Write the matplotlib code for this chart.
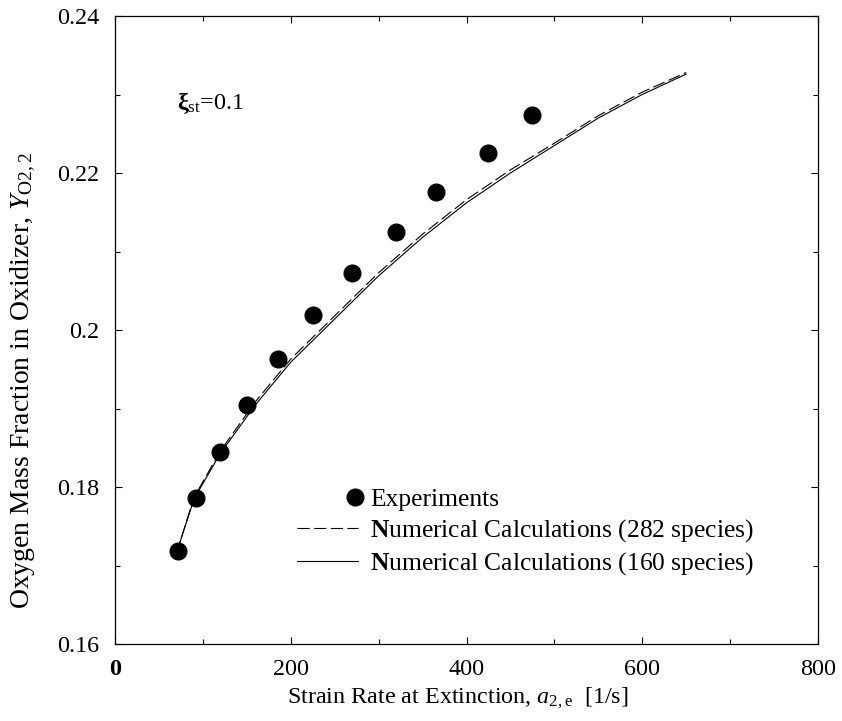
import numpy as np
import matplotlib
matplotlib.use("Agg")
import matplotlib.pyplot as plt
from matplotlib.legend_handler import HandlerLine2D

plt.rcParams['font.family'] = ['Liberation Serif', 'DejaVu Serif']
plt.rcParams['mathtext.fontset'] = 'custom'
plt.rcParams['mathtext.rm'] = 'Liberation Serif'
plt.rcParams['mathtext.it'] = 'Liberation Serif:italic'
plt.rcParams['mathtext.bf'] = 'Liberation Serif:bold'

# Experimental data
exp_strain = [72, 92, 119, 150, 185, 225, 270, 320, 365, 425, 475]
exp_yo2 = [0.1718, 0.1786, 0.1845, 0.1904, 0.1963, 0.2019, 0.2073, 0.2125, 0.2176, 0.2225, 0.2274]

# Numerical calculations
calc_strain = [70, 90, 120, 160, 200, 250, 300, 350, 400, 450, 500, 550, 600, 650]
calc_282 = [0.1716, 0.1787, 0.1846, 0.1909, 0.1963, 0.2018, 0.2073, 0.2122, 0.2166, 0.2204, 0.2238, 0.2273, 0.2303, 0.2328]
calc_160 = [0.1716, 0.1785, 0.1843, 0.1905, 0.1959, 0.2014, 0.2069, 0.2118, 0.2162, 0.2200, 0.2235, 0.2270, 0.2300, 0.2326]

x_ticks = [0, 200, 400, 600, 800]
x_tick_labels = ["0", "200", "400", "600", "800"]
y_ticks = [0.16, 0.18, 0.20, 0.22, 0.24]
y_tick_labels = ["0.16", "0.18", "0.2", "0.22", "0.24"]

fig = plt.figure(figsize=(8.42, 7.21), dpi=100)
ax = fig.add_axes([115/842, 1-644/721, 703/842, 628/721])

ax.plot(calc_strain, calc_282, color='black', lw=0.8, linestyle=(0, (11, 4)),
        label=r"$\mathbf{N}$umerical Calculations (282 species)")
ax.plot(calc_strain, calc_160, color='black', lw=0.8, linestyle='-',
        label=r"$\mathbf{N}$umerical Calculations (160 species)")
ax.plot(exp_strain, exp_yo2, linestyle='none', marker='o', markersize=12,
        color='black', label="Experiments", zorder=3)

ax.set_xlim(0, 800)
ax.set_ylim(0.16, 0.24)
ax.set_xticks(x_ticks, labels=x_tick_labels)
ax.set_yticks(y_ticks, labels=y_tick_labels)
ax.set_xticks([100, 300, 500, 700], minor=True)
ax.set_yticks([0.17, 0.19, 0.21, 0.23], minor=True)
ax.tick_params(which='both', direction='in', top=True, right=True, labelsize=17.4, width=0.8)
ax.tick_params(which='major', length=5, pad=11)
ax.tick_params(which='minor', length=3.5)
ax.get_xticklabels()[0].set_fontweight('bold')
for s in ax.spines.values():
    s.set_linewidth(0.9)

ax.set_xlabel(r"Strain Rate at Extinction, $a_{\mathrm{2,e}}$  [1/s]", fontsize=17.4,
              labelpad=4, x=0.487)
ax.set_ylabel(r"Oxygen Mass Fraction in Oxidizer, $Y_{\mathrm{O2,2}}$", fontsize=20,
              labelpad=14, y=0.42)

ax.text(70, 0.2289, r"$\mathbf{\xi}_{\mathrm{st}}$=0.1", fontsize=17.4, va='center', ha='left')


class RightMarker(HandlerLine2D):
    def get_xdata(self, legend, xdescent, ydescent, width, height, fontsize):
        x = width - xdescent - 0.12 * fontsize
        return [x, x], [x, x]


handles, labels = ax.get_legend_handles_labels()
order = [2, 0, 1]
leg = ax.legend([handles[i] for i in order], [labels[i] for i in order],
                loc='upper left', bbox_to_anchor=((297-115)/703, (644-488)/628),
                frameon=False, fontsize=18.4, handlelength=2.4, handletextpad=0.45,
                labelspacing=0.25, borderpad=0, borderaxespad=0, numpoints=1,
                handler_map={handles[2]: RightMarker(numpoints=1)})

fig.savefig("out.png", dpi=100)
